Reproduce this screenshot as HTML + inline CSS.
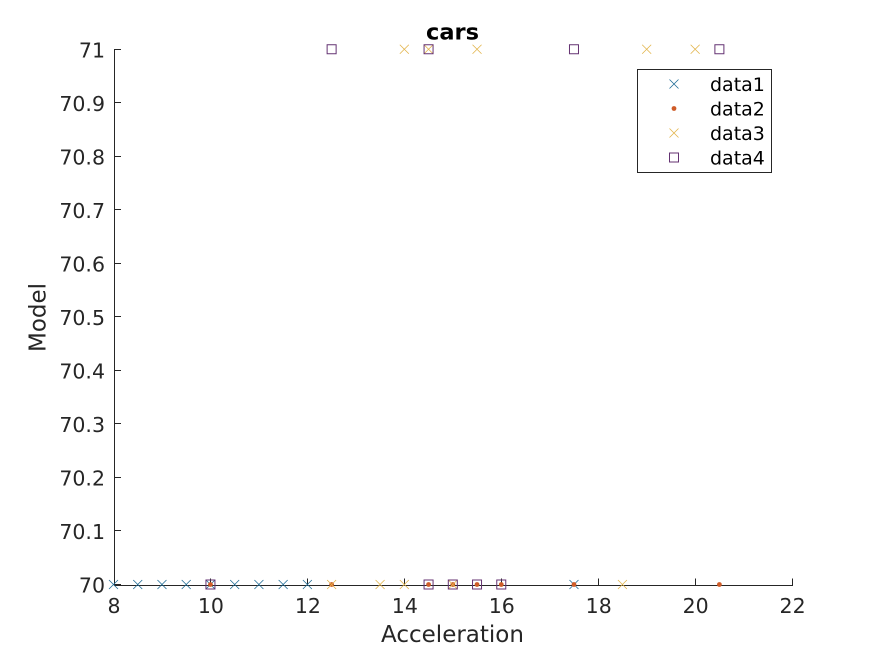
<!DOCTYPE html>
<html>
<head>
<meta charset="utf-8">
<style>
html,body{margin:0;padding:0;background:#fff;width:875px;height:656px;overflow:hidden}
svg{display:block}
text{font-family:"DejaVu Sans","Liberation Sans",sans-serif}
</style>
</head>
<body>
<svg id="chart" xmlns="http://www.w3.org/2000/svg" width="875" height="656" viewBox="0 0 875 656"></svg>
<script>
const xTicks = [8, 10, 12, 14, 16, 18, 20, 22];
const yTicks = [70, 70.1, 70.2, 70.3, 70.4, 70.5, 70.6, 70.7, 70.8, 70.9, 71];
const yTickLabels = ['70', '70.1', '70.2', '70.3', '70.4', '70.5', '70.6', '70.7', '70.8', '70.9', '71'];
const data1X = [8, 8.5, 9, 9.5, 10, 10.5, 11, 11.5, 12, 17.5];
const data1Y = [70, 70, 70, 70, 70, 70, 70, 70, 70, 70];
const data2X = [10, 12.5, 14.5, 15, 15.5, 16, 17.5, 20.5];
const data2Y = [70, 70, 70, 70, 70, 70, 70, 70];
const data3X = [12.5, 13.5, 14, 15, 18.5, 14, 14.5, 15.5, 19, 20];
const data3Y = [70, 70, 70, 70, 70, 71, 71, 71, 71, 71];
const data4X = [10, 14.5, 15, 15.5, 16, 12.5, 14.5, 17.5, 20.5];
const data4Y = [70, 70, 70, 70, 70, 71, 71, 71, 71];
const seriesNames = ['data1', 'data2', 'data3', 'data4'];

const NS = 'http://www.w3.org/2000/svg';
const svg = document.getElementById('chart');
const xMin = 8, xMax = 22, yMin = 70, yMax = 71;
const left = 113.5, right = 792.1, bottom = 584.5, top_ = 49.25;
const ink = '#262626';
const colors = ['#1f6c96', '#cf5c28', '#e2b44a', '#643272'];

function sx(v) { return left + (v - xMin) / (xMax - xMin) * (right - left); }
function sy(v) { return bottom - (v - yMin) / (yMax - yMin) * (bottom - top_); }

function make(tag, attrs, parent) {
  const el = document.createElementNS(NS, tag);
  for (const k in attrs) el.setAttribute(k, attrs[k]);
  (parent || svg).appendChild(el);
  return el;
}

function drawCross(g, cx, cy, color) {
  const r = 4.5;
  make('path', { d: `M${cx - r} ${cy - r}L${cx + r} ${cy + r}M${cx - r} ${cy + r}L${cx + r} ${cy - r}`, stroke: color, 'stroke-width': 0.8, fill: 'none' }, g);
}
function drawDot(g, cx, cy, color) {
  make('circle', { cx: cx, cy: cy, r: 2.4, fill: color }, g);
}
function drawSquare(g, cx, cy, color) {
  make('rect', { x: cx - 4.5, y: cy - 4.5, width: 9, height: 9, fill: 'none', stroke: color, 'stroke-width': 1 }, g);
}
const drawers = [drawCross, drawDot, drawCross, drawSquare];

function drawSeries(index, xs, ys) {
  const g = make('g', {});
  
  
  xs.forEach(function (x, i) {
    drawers[index](g, sx(x), sy(ys[i]), colors[index]);
  });
}

// axes
const xAxis = make('g', {});


make('line', { x1: 114, x2: 793, y1: 585.5, y2: 585.5, stroke: ink, 'stroke-width': 1 }, xAxis);
xTicks.forEach(function (t) {
  const x = Math.round(sx(t)) + 0.5;
  make('line', { x1: x, x2: x, y1: 585.5, y2: 578.5, stroke: ink, 'stroke-width': 1 }, xAxis);
  const label = make('text', { x: sx(t) + 0.5, y: 613, 'text-anchor': 'middle', 'font-size': 20.5, fill: ink }, xAxis);
  label.textContent = String(t);
});

const yAxis = make('g', {});


make('line', { x1: 114.5, x2: 114.5, y1: 49, y2: 586, stroke: ink, 'stroke-width': 1 }, yAxis);
yTicks.forEach(function (t, i) {
  const y = Math.floor(sy(t)) + 0.5;
  make('line', { x1: 114, x2: 121, y1: y, y2: y, stroke: ink, 'stroke-width': 1 }, yAxis);
  const label = make('text', { x: 105, y: sy(t) + 8, 'text-anchor': 'end', 'font-size': 20.5, fill: ink }, yAxis);
  label.textContent = yTickLabels[i];
});

// series
drawSeries(0, data1X, data1Y);
drawSeries(1, data2X, data2Y);
drawSeries(2, data3X, data3Y);
drawSeries(3, data4X, data4Y);

// titles
const title = make('text', { x: 452.5, y: 39.5, 'text-anchor': 'middle', 'font-size': 22.5, 'font-weight': 'bold', fill: '#000' });


title.textContent = 'cars';

const xTitle = make('text', { x: 452.5, y: 642, 'text-anchor': 'middle', 'font-size': 23, fill: ink });


xTitle.textContent = 'Acceleration';

const yTitle = make('text', { x: 0, y: 0, 'text-anchor': 'middle', 'font-size': 23, fill: ink, transform: 'translate(45.5 317.5) rotate(-90)' });


yTitle.textContent = 'Model';

// legend
const legend = make('g', {});


make('rect', { x: 637.5, y: 69.5, width: 134, height: 103, fill: '#fff', stroke: ink, 'stroke-width': 1 }, legend);
const legendRowY = [84, 108.5, 133, 157.5];
seriesNames.forEach(function (name, i) {
  const entry = make('g', {}, legend);
  
  
  drawers[i](entry, 674, legendRowY[i], colors[i]);
  const label = make('text', { x: 710, y: legendRowY[i] + 7, 'font-size': 19, fill: '#000' }, entry);
  label.textContent = name;
});
</script>
</body>
</html>
